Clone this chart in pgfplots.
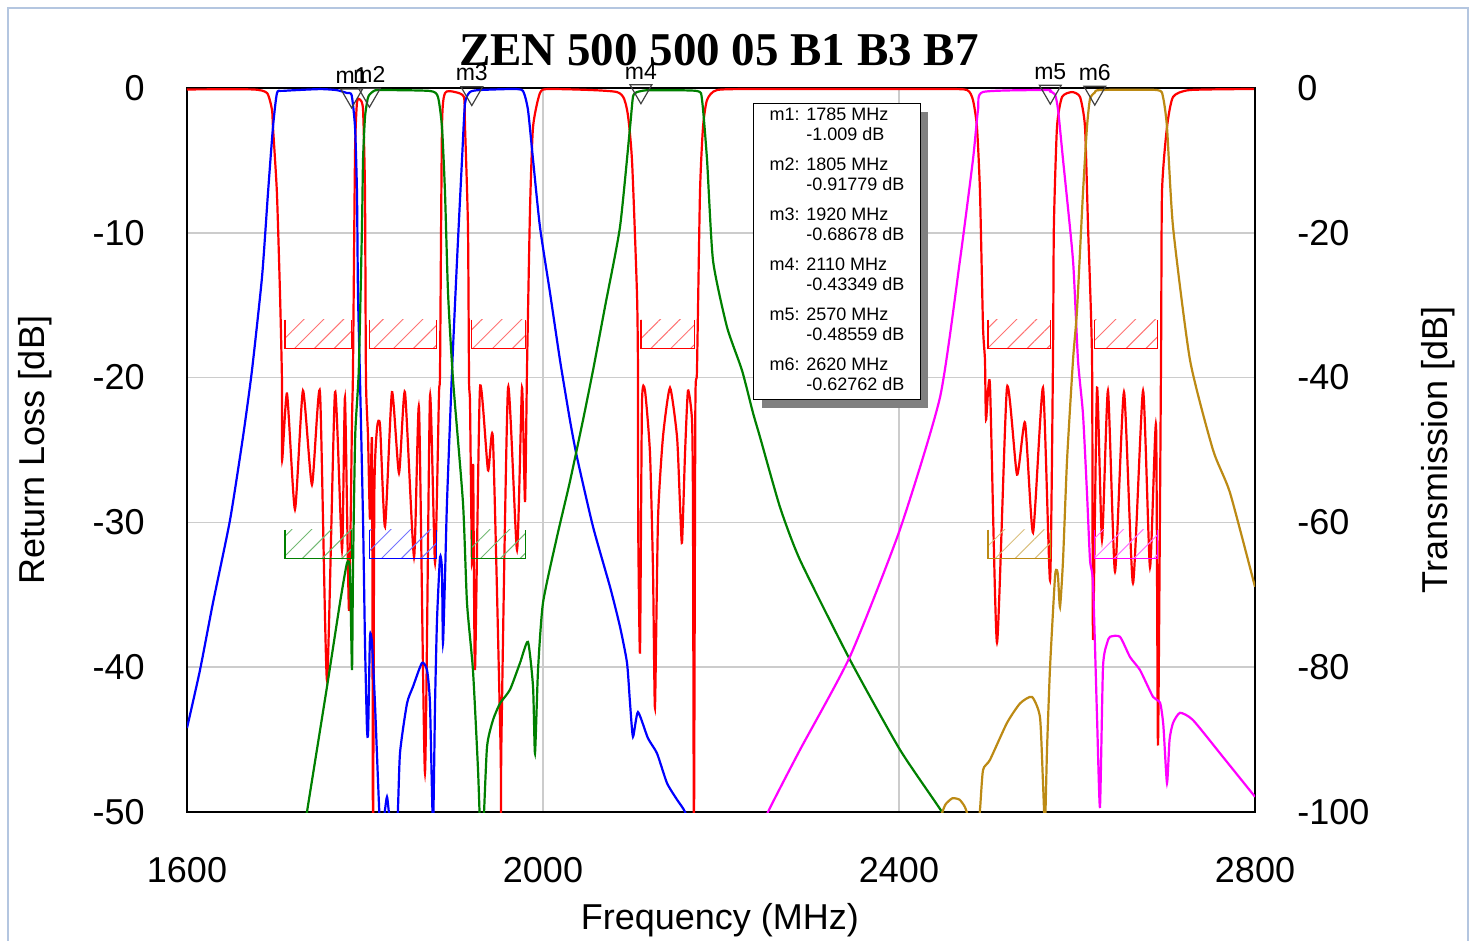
\documentclass[border=0pt]{standalone}
\usepackage{fontspec}
\setmainfont{Liberation Sans}
\newfontfamily\titlefont{Liberation Serif}
\usepackage{pgfplots}
\pgfplotsset{compat=1.18}
\usetikzlibrary{patterns.meta,shadows}

\definecolor{cRed}{RGB}{255,0,0}
\definecolor{cBlue}{RGB}{0,0,255}
\definecolor{cGreen}{RGB}{0,128,0}
\definecolor{cMag}{RGB}{255,0,255}
\definecolor{cGold}{RGB}{188,138,20}
\definecolor{frameblue}{RGB}{180,198,224}

\pgfplotsset{
  rlbase/.style={
    scale only axis, width=534pt, height=362pt,
    xmin=1600, xmax=2800,
    major tick length=0pt,
    axis line style={line width=0.8pt},
    tick label style={font=\fontsize{18}{20}\selectfont},
    label style={font=\fontsize{18}{20}\selectfont},
    /pgf/number format/assume math mode=true,
    /pgf/number format/1000 sep={},
  },
  curve/.style={#1, line width=1.1pt, no markers, smooth, tension=0.35},
}

% hatched spec mask: colour, f1, f2, top, bottom
\newcommand{\mask}[5]{%
  \addplot[draw=none, forget plot,
    pattern={Lines[angle=45,distance=7pt,line width=0.5pt]}, pattern color=#1!55]
    coordinates {(#2,#4) (#2,#5) (#3,#5) (#3,#4)} -- cycle;
  \addplot[#1, line width=0.6pt, forget plot]
    coordinates {(#2,#4) (#2,#5) (#3,#5) (#3,#4)};
}

\begin{document}
\begin{tikzpicture}
% ---------- left axis: return loss ----------
\begin{axis}[rlbase,
    ymin=-50, ymax=0,
    xtick={1600,2000,2400,2800},
    ytick={-50,-40,...,0},
    grid=major, grid style={gray!40, line width=0.8pt},
    xticklabel style={anchor=center, yshift=-29pt},
    yticklabel style={anchor=east, inner sep=0pt, xshift=-21pt},
    xlabel={Frequency (MHz)},
    ylabel={Return Loss [dB]},
    xlabel style={at={(axis description cs:0.499,-0.149)}, anchor=center},
    ylabel style={at={(axis description cs:-0.1423,0.5)}, anchor=center},
    title={ZEN 500 500 05 B1 B3 B7},
    title style={at={(axis description cs:0.498,1.036)}, anchor=center,
      font=\titlefont\bfseries\fontsize{23.5}{26}\selectfont},
  ]
\coordinate (bbSW) at (axis description cs:-0.17509,-0.17680);
\coordinate (bbNE) at (axis description cs:1.20787,1.12155);
\coordinate (frSW) at (axis description cs:-0.1676,-0.1900);
\coordinate (frNE) at (axis description cs:1.1994,1.1105);

\mask{cRed}{1710}{1785}{-16}{-18}
\mask{cRed}{1805}{1880}{-16}{-18}
\mask{cRed}{1920}{1980}{-16}{-18}
\mask{cRed}{2110}{2170}{-16}{-18}
\mask{cRed}{2500}{2570}{-16}{-18}
\mask{cRed}{2620}{2690}{-16}{-18}

\addplot[curve=cRed] coordinates {
(1600,-0.1) (1674,-0.1) (1690,-0.35) (1695.5,-1.5) (1696.6,-2.7) (1701,-7.2)
(1704.5,-14.2) (1706.7,-20.2) (1706.9,-25.7) (1712.4,-21.1) (1721.3,-29.1)
(1730.3,-20.9) (1740.4,-27.4) (1749.4,-21.0) (1757.3,-40.9) (1766.3,-21.0)
(1774.2,-31.9) (1777.5,-21.4) (1782,-36.1) (1785.4,-22.9) (1786.5,-19.5)
(1788.8,-4.5) (1791,-1.0) (1794.4,-0.8) (1797.8,-1.5) (1800,-7.2) (1801.1,-20.2)
(1803.4,-24.1) (1805.6,-29.8) (1807.9,-24.5) (1809,-52) (1810.5,-28)
(1813.5,-23.5) (1816.9,-23.3) (1822.5,-30.3) (1830.3,-21.0) (1838.2,-26.6)
(1844.9,-21.0) (1855.1,-32.4) (1860.7,-22.1) (1867.4,-47.3) (1873,-21.3)
(1878.7,-32.8) (1883.1,-21.2) (1884.3,-19.5) (1886.5,-2.7) (1889.9,-0.35)
(1901.1,-0.28) (1911.2,-0.62) (1912.4,-2.7) (1915.7,-9.6) (1916.9,-20.2)
(1918,-21.8) (1920.2,-32.8) (1921.5,-26) (1923.6,-40.2) (1929.2,-20.7)
(1938.2,-26.4) (1943.8,-24.3) (1952.3,-45.5) (1952.8,-52) (1953.3,-45)
(1960.7,-20.7) (1970.8,-31.9) (1976.4,-20.7) (1979.8,-28.6) (1982,-19.5)
(1985.4,-8.4) (1988.8,-2.7) (1996.6,-0.35) (2007.9,-0.07) (2083.1,-0.28)
(2094.4,-1.5) (2100,-5.0) (2105.6,-14.2) (2106.7,-19.5) (2107,-30.5)
(2109,-39.0) (2111.2,-21.8) (2114.6,-20.9) (2120.2,-25.2) (2123.6,-33.3)
(2125.8,-42.8) (2129.2,-29.8) (2134.8,-24.1) (2142.7,-20.7) (2150.6,-24.1)
(2153.9,-28.7) (2156.2,-31.4) (2159.6,-25.2) (2162.9,-20.9) (2167.4,-22.9)
(2168.5,-28.7) (2169.6,-52) (2171.2,-22) (2173,-19.5) (2176.4,-7.2)
(2179.8,-2.7) (2184.3,-0.83) (2195.5,-0.14) (2243.8,-0.07) (2446,-0.07)
(2476.4,-0.14) (2483.1,-0.83) (2487.6,-2.7) (2491,-7.2) (2494.4,-16.5)
(2496.6,-18.8) (2497.8,-22.9) (2502.2,-20.5) (2510.1,-38.3) (2521.3,-20.7)
(2532.6,-26.7) (2541.6,-23.1) (2550.6,-30.7) (2561.8,-20.7) (2569.7,-34.0)
(2573,-18.8) (2574,-9.6) (2577.5,-2.7) (2583.2,-0.62) (2594.4,-0.28)
(2603.4,-0.62) (2609,-2.7) (2612.4,-9.6) (2616.9,-18.8) (2618,-38.1)
(2622.5,-20.7) (2628.1,-31.2) (2634.8,-20.9) (2642.7,-33.4) (2652.8,-21.0)
(2662.9,-34.2) (2674.2,-20.9) (2682,-33.1) (2688.8,-23.3) (2691,-45.4)
(2694.4,-18.8) (2695.5,-7.2) (2701.1,-2.7) (2707.9,-0.62) (2727,-0.14)
(2800,-0.07)
};
\end{axis}

% ---------- right axis: transmission ----------
\begin{axis}[rlbase,
    ymin=-100, ymax=0,
    axis y line*=right, axis x line=none,
    ytick={-100,-80,...,0},
    yticklabel style={anchor=west, inner sep=0pt, xshift=21pt},
    ylabel={Transmission [dB]},
    ylabel style={at={(axis description cs:1.1713,0.5)}, anchor=center},
  ]
\mask{cGreen}{1710}{1785}{-61}{-65}
\mask{cBlue}{1805}{1880}{-61}{-65}
\mask{cGreen}{1920}{1980}{-61}{-65}
\mask{cGold}{2500}{2570}{-61}{-65}
\mask{cMag}{2620}{2690}{-61}{-65}

% uplink B3/B1 path
\addplot[curve=cBlue] coordinates {
(1600,-88.4) (1614.6,-80.4) (1629.2,-71.1) (1648.3,-59.7) (1662.9,-48.2)
(1673,-39.0) (1684.3,-26.1) (1691,-14.5) (1696.6,-5.4) (1701.1,-0.7)
(1707.9,-0.4) (1749.4,-0.15) (1768.5,-0.3) (1779.8,-0.7) (1785,-1.0)
(1788.8,-5.4) (1791,-14.5) (1792.1,-28.3) (1794.4,-40.3) (1797.8,-59.7)
(1800,-76.7) (1802.2,-88.4) (1803.5,-89) (1805.6,-75.8) (1807.9,-76.7)
(1811.2,-85.0) (1816.9,-102) (1821,-101) (1824.7,-97.9) (1828,-101)
(1836,-102) (1839.3,-91.9) (1847.2,-85.0) (1853.9,-82.7) (1864,-79.4)
(1869.7,-80.4) (1873,-85.0) (1876.4,-102) (1878.7,-85.0) (1880.9,-73.5)
(1884.3,-64.8) (1886.5,-66.6) (1887.6,-76.7) (1889.9,-67.5) (1892.1,-57.3)
(1897.8,-39.0) (1903.4,-23.8) (1909,-9.9) (1912.4,-2.1) (1918,-0.55)
(1929.2,-0.28) (1966.3,-0.14) (1977.5,-0.4) (1983.1,-3.0) (1988.8,-9.9)
(1996.6,-19.2) (2007.9,-28.3) (2019.1,-37.6) (2030.3,-45.9) (2038.2,-51.0)
(2056.2,-60.6) (2075.3,-68.9) (2086.5,-74.4) (2094.4,-79.4) (2097.8,-85.0)
(2101.1,-89.6) (2106.7,-86.2) (2117.9,-89.8) (2128.1,-91.9) (2139.3,-96.0)
(2150.6,-98.3) (2159.6,-100) (2170,-104)
};
% downlink B3/B1 path
\addplot[curve=cGreen] coordinates {
(1725,-108) (1734.8,-100) (1757.3,-82.7) (1771.9,-71.1) (1779.8,-65.6)
(1783.1,-66.6) (1785.4,-80.4) (1786.5,-66.6) (1789,-48) (1793,-39)
(1796.6,-19.2) (1797.8,-9.9) (1800,-4) (1803,-1.5) (1805,-0.92) (1810,-0.4)
(1816.9,-0.28) (1873,-0.41) (1882,-1.24) (1886.5,-5.4) (1889.9,-14.5)
(1893.3,-28.3) (1898.9,-40.3) (1910.1,-57.3) (1914.6,-71.1) (1921.3,-80.4)
(1927,-94.2) (1930,-104) (1933,-102) (1937.1,-91.0) (1943.8,-87.3)
(1951.7,-85.0) (1962.9,-83.1) (1974.2,-79.4) (1983.1,-76.5) (1988.8,-82.7)
(1991,-91.9) (1994.4,-80.4) (2000,-71.1) (2015.7,-62.0) (2030,-54.5)
(2044.9,-45.9) (2056.2,-39.0) (2070,-30) (2086.5,-19.2) (2097.8,-5.4)
(2101.1,-1.2) (2105,-0.6) (2110,-0.43) (2120,-0.3) (2173,-0.41)
(2178.7,-1.66) (2184.3,-9.9) (2191,-23.8) (2206.7,-33.0) (2223.6,-39.0)
(2236,-44.9) (2243.8,-48.2) (2266.3,-57.9) (2288.8,-65.2) (2345,-79.0)
(2401.1,-91.4) (2448.3,-100) (2460,-103)
};
% B7 uplink path
\addplot[curve=cMag] coordinates {
(2245,-103) (2252.8,-100) (2288.8,-91.4) (2345,-78.5) (2401,-61)
(2446.1,-42.7) (2468.5,-23.8) (2483.1,-9.9) (2488.8,-3.0) (2494.4,-0.55)
(2566.3,-0.28) (2570,-0.49) (2575.3,-0.9) (2578.7,-3.0) (2584.3,-9.9)
(2595.5,-23.8) (2601.1,-37.6) (2606.7,-45) (2611.2,-55.9) (2614.6,-65.2)
(2618,-68.4) (2622.5,-86.9) (2625.8,-99.3) (2629.2,-80.0) (2633.7,-76.7)
(2637.1,-75.8) (2648.3,-75.8) (2659.6,-78.6) (2670.8,-80.4) (2685.4,-84.1)
(2693.3,-84.9) (2697,-88) (2701.1,-96.0) (2704,-90) (2707.9,-87.7)
(2715.7,-86.3) (2730.3,-87.3) (2764,-92.4) (2800,-97.9)
};
% B7 downlink path
\addplot[curve=cGold] coordinates {
(2440,-104) (2446,-101) (2452,-99.0) (2460,-98.1) (2468,-98.3) (2474,-99.3)
(2478,-101) (2482,-106) (2488,-103) (2491,-99.7) (2494.4,-94.2)
(2502.2,-92.8) (2521.3,-87.7) (2536,-85.0) (2549.4,-84.1) (2558.4,-86.9)
(2561.8,-96.0) (2564,-102) (2566.3,-91.4) (2569.7,-80.0) (2575.3,-67.5)
(2577.5,-66.6) (2578.7,-67.5) (2580.9,-71.7) (2584.3,-65.2) (2588.8,-51.4)
(2595.5,-37.6) (2600,-30.7) (2606.7,-14.5) (2611.2,-5.4) (2614.6,-1.5)
(2620,-0.63) (2625.8,-0.28) (2689.9,-0.28) (2696.6,-1.24) (2701.1,-5.4)
(2707.9,-19.2) (2727,-37.6) (2752.8,-50.0) (2771.9,-55.9) (2800,-68.9)
};

% markers
\addplot[only marks, black!75, mark=triangle, mark size=6.3pt,
    mark options={rotate=180, line width=0.6pt},
    point meta=explicit symbolic, nodes near coords,
    every node near coord/.append style={anchor=center, yshift=10pt,
      black, font=\fontsize{11.5}{12}\selectfont}]
  coordinates {(1785,-1.009)[m1] (1805,-0.91779)[m2] (1920,-0.68678)[m3]
               (2110,-0.43349)[m4] (2570,-0.48559)[m5] (2620,-0.62762)[m6]};

\node[draw=black, line width=0.6pt, fill=white,
      drop shadow={shadow xshift=4pt, shadow yshift=-4pt, fill=gray, opacity=1},
      anchor=north west, inner xsep=8pt, inner ysep=1.5pt,
      font=\fontsize{9}{10}\selectfont]
  at (rel axis cs:0.530,0.979) {%
  \begin{tabular}{@{}l@{ }l@{}}
  m1: & 1785 MHz\\ & -1.009 dB\\[5pt]
  m2: & 1805 MHz\\ & -0.91779 dB\\[5pt]
  m3: & 1920 MHz\\ & -0.68678 dB\\[5pt]
  m4: & 2110 MHz\\ & -0.43349 dB\\[5pt]
  m5: & 2570 MHz\\ & -0.48559 dB\\[5pt]
  m6: & 2620 MHz\\ & -0.62762 dB
  \end{tabular}};
\end{axis}

\draw[frameblue, line width=1pt] (frSW) rectangle (frNE);
\pgfresetboundingbox
\useasboundingbox (bbSW) rectangle (bbNE);
\end{tikzpicture}
\end{document}
